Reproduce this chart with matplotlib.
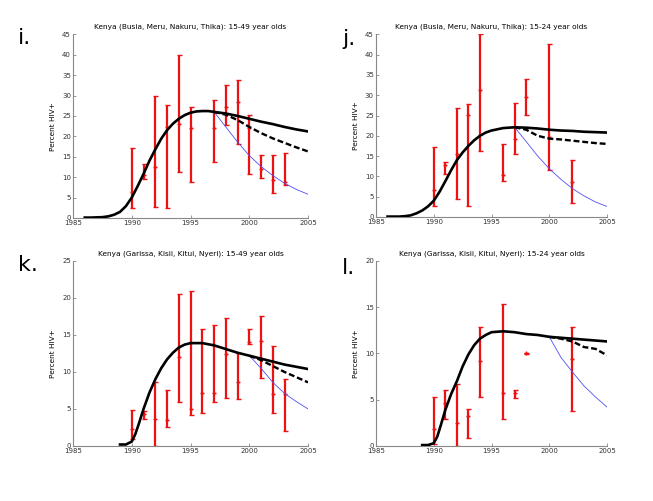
import matplotlib
matplotlib.use('Agg')
import matplotlib.pyplot as plt
import numpy as np

# ---- panel i: Busia/Meru/Nakuru/Thika, 15-49 ----
i_years = [1990, 1991, 1992, 1993, 1994, 1995, 1997, 1998, 1999, 2000, 2001, 2002, 2003]
i_val = [6.3, 10.5, 12.5, 22.3, 23.0, 22.0, 22.0, 27.2, 28.4, 22.0, 12.0, 9.4, 8.9]
i_lo = [2.4, 9.6, 2.7, 2.4, 11.2, 8.8, 13.8, 22.9, 18.1, 10.7, 9.8, 6.2, 8.1]
i_hi = [17.2, 13.3, 29.8, 27.6, 39.9, 27.3, 28.8, 32.7, 33.8, 25.3, 15.4, 15.5, 16.0]
i_fit_x = [1986, 1986.5, 1987, 1987.5, 1988, 1988.5, 1989, 1989.5, 1990, 1990.5, 1991, 1991.5,
           1992, 1992.5, 1993, 1993.5, 1994, 1994.5, 1995, 1995.5, 1996, 1996.5, 1997, 1998,
           1999, 2000, 2001, 2002, 2003, 2004, 2005]
i_fit = [0.1, 0.1, 0.15, 0.2, 0.4, 0.8, 1.5, 2.9, 5.0, 7.8, 10.8, 14.0, 16.8, 19.4, 21.5, 23.1,
         24.3, 25.2, 25.8, 26.1, 26.2, 26.2, 26.0, 25.6, 25.0, 24.3, 23.6, 23.0, 22.3, 21.7, 21.2]
i_proj_x = [1997, 1998, 1999, 2000, 2001, 2002, 2003, 2004, 2005]
i_dash = [26.0, 25.3, 24.0, 22.3, 20.8, 19.5, 18.4, 17.3, 16.3]
i_blue = [26.0, 22.3, 18.6, 15.3, 12.6, 10.4, 8.5, 7.0, 5.8]

# ---- panel j: Busia/Meru/Nakuru/Thika, 15-24 ----
j_years = [1990, 1991, 1992, 1993, 1994, 1996, 1997, 1998, 2000, 2002]
j_val = [6.7, 12.9, 15.5, 25.2, 31.3, 10.3, 19.2, 29.6, 19.7, 8.7]
j_lo = [2.6, 10.7, 4.4, 2.8, 16.3, 8.8, 15.5, 25.2, 11.5, 3.5]
j_hi = [17.3, 13.6, 26.9, 27.8, 45.0, 18.1, 28.1, 34.1, 42.6, 14.0]
j_fit_x = [1986, 1987, 1987.5, 1988, 1988.5, 1989, 1989.5, 1990, 1990.5, 1991, 1991.5, 1992,
           1992.5, 1993, 1993.5, 1994, 1994.5, 1995, 1996, 1997, 1998, 1999, 2000, 2001, 2002,
           2003, 2004, 2005]
j_fit = [0.1, 0.1, 0.2, 0.4, 0.9, 1.6, 2.6, 4.0, 6.2, 8.8, 11.5, 14.0, 15.9, 17.5, 18.9, 20.0,
         20.8, 21.3, 21.9, 22.1, 22.0, 21.8, 21.5, 21.3, 21.2, 21.0, 20.9, 20.8]
j_proj_x = [1997, 1998, 1999, 2000, 2001, 2002, 2003, 2004, 2005]
j_dash = [22.1, 21.5, 20.0, 19.3, 19.1, 18.8, 18.5, 18.2, 18.0]
j_blue = [22.1, 18.6, 15.0, 11.9, 9.3, 7.0, 5.2, 3.7, 2.6]

# ---- panel k: Garissa/Kisii/Kitui/Nyeri, 15-49 ----
k_years = [1990, 1991, 1992, 1993, 1994, 1995, 1996, 1997, 1998, 1999, 2000, 2001, 2002, 2003]
k_val = [2.3, 4.3, 3.7, 3.5, 12.0, 5.0, 7.1, 7.2, 12.4, 8.6, 14.0, 14.2, 7.0, 7.0]
k_lo = [1.0, 3.7, 0.0, 2.6, 6.0, 4.2, 4.5, 6.0, 6.5, 6.4, 13.8, 9.2, 4.4, 2.0]
k_hi = [4.9, 4.7, 8.6, 7.5, 20.5, 20.9, 15.8, 16.4, 17.3, 12.6, 15.8, 17.5, 13.5, 9.0]
k_fit_x = [1989, 1989.5, 1990, 1990.3, 1990.6, 1991, 1991.5, 1992, 1992.5, 1993, 1993.5, 1994,
           1994.5, 1995, 1996, 1997, 1998, 1999, 2000, 2001, 2002, 2003, 2004, 2005]
k_fit = [0.2, 0.2, 0.6, 1.6, 3.0, 5.0, 7.2, 9.0, 10.5, 11.7, 12.6, 13.3, 13.7, 13.9, 13.9, 13.6,
         13.1, 12.6, 12.2, 11.8, 11.4, 11.0, 10.7, 10.4]
k_proj_x = [2000, 2001, 2002, 2003, 2004, 2005]
k_dash = [12.2, 11.6, 10.8, 10.0, 9.3, 8.6]
k_blue = [12.2, 10.5, 8.6, 7.1, 6.0, 5.0]

# ---- panel l: Garissa/Kisii/Kitui/Nyeri, 15-24 ----
l_years = [1990, 1991, 1992, 1993, 1994, 1996, 1997, 1998, 2002]
l_val = [1.8, 4.7, 2.5, 3.2, 9.2, 5.7, 5.7, 10.0, 9.4]
l_lo = [0.2, 2.9, 0.0, 0.9, 5.3, 2.9, 5.2, 9.9, 3.8]
l_hi = [5.3, 6.1, 6.7, 4.0, 12.9, 15.3, 6.0, 10.1, 12.9]
l_fit_x = [1989, 1989.5, 1990, 1990.3, 1990.6, 1991, 1991.5, 1992, 1992.5, 1993, 1993.5, 1994,
           1994.5, 1995, 1996, 1997, 1998, 1999, 2000, 2001, 2002, 2003, 2004, 2005]
l_fit = [0.1, 0.1, 0.3, 1.0, 2.2, 3.9, 5.6, 7.0, 8.6, 9.9, 10.9, 11.6, 12.0, 12.3, 12.4, 12.3,
         12.1, 12.0, 11.8, 11.7, 11.6, 11.5, 11.4, 11.3]
l_proj_x = [2000, 2001, 2002, 2003, 2004, 2005]
l_dash = [11.8, 11.6, 11.3, 10.7, 10.5, 9.8]
l_blue = [11.8, 9.6, 8.0, 6.5, 5.3, 4.2]

panels = [
    ('i.', 'Kenya (Busia, Meru, Nakuru, Thika): 15-49 year olds', 45,
     i_years, i_val, i_lo, i_hi, i_fit_x, i_fit, i_proj_x, i_dash, i_blue,
     [0.1118, 0.5649, 0.360, 0.3666], (0.027, 0.925)),
    ('j.', 'Kenya (Busia, Meru, Nakuru, Thika): 15-24 year olds', 45,
     j_years, j_val, j_lo, j_hi, j_fit_x, j_fit, j_proj_x, j_dash, j_blue,
     [0.5758, 0.5669, 0.3538, 0.3646], (0.524, 0.922)),
    ('k.', 'Kenya (Garissa, Kisii, Kitui, Nyeri): 15-49 year olds', 25,
     k_years, k_val, k_lo, k_hi, k_fit_x, k_fit, k_proj_x, k_dash, k_blue,
     [0.1118, 0.1098, 0.360, 0.3693], (0.027, 0.472)),
    ('l.', 'Kenya (Garissa, Kisii, Kitui, Nyeri): 15-24 year olds', 20,
     l_years, l_val, l_lo, l_hi, l_fit_x, l_fit, l_proj_x, l_dash, l_blue,
     [0.5758, 0.1098, 0.3538, 0.3693], (0.524, 0.465)),
]

fig = plt.figure(figsize=(6.53, 5.01), dpi=100, facecolor='white')

for (letter, title, ymax, yrs, val, lo, hi, fx, fy, px, pdash, pblue, pos, lpos) in panels:
    ax = fig.add_axes(pos)
    val = np.array(val)
    err = [val - np.array(lo), np.array(hi) - val]
    ax.errorbar(yrs, val, yerr=err, fmt='+', color='#ee1111', ecolor='#ee1111',
                elinewidth=1.6, capsize=1.8, capthick=1.2, markersize=3,
                markeredgewidth=1.0, zorder=2)
    ax.plot(px, pblue, color='#5050f0', lw=0.6, zorder=3)
    ax.plot(px, pdash, color='black', lw=1.7, ls=(0, (2.5, 1.2)), zorder=4)
    ax.plot(fx, fy, color='black', lw=1.9, zorder=5)

    ax.set_xlim(1985, 2005)
    ax.set_ylim(0, ymax)
    ax.set_xticks([1985, 1990, 1995, 2000, 2005])
    ax.set_yticks(np.arange(0, ymax + 1, 5))
    for s in ['top', 'right']:
        ax.spines[s].set_visible(False)
    for s in ['left', 'bottom']:
        ax.spines[s].set_color('#888888')
        ax.spines[s].set_linewidth(0.8)
    ax.tick_params(direction='in', length=2, width=0.6, colors='#888888',
                   labelsize=5, labelcolor='#333333', pad=1.5)
    ax.set_title(title, fontsize=5.3, pad=4)
    ax.set_ylabel('Percent HIV+', fontsize=5.3, labelpad=4)
    fig.text(lpos[0], lpos[1], letter, fontsize=16, ha='left', va='center')

fig.savefig('out.png', dpi=100)
